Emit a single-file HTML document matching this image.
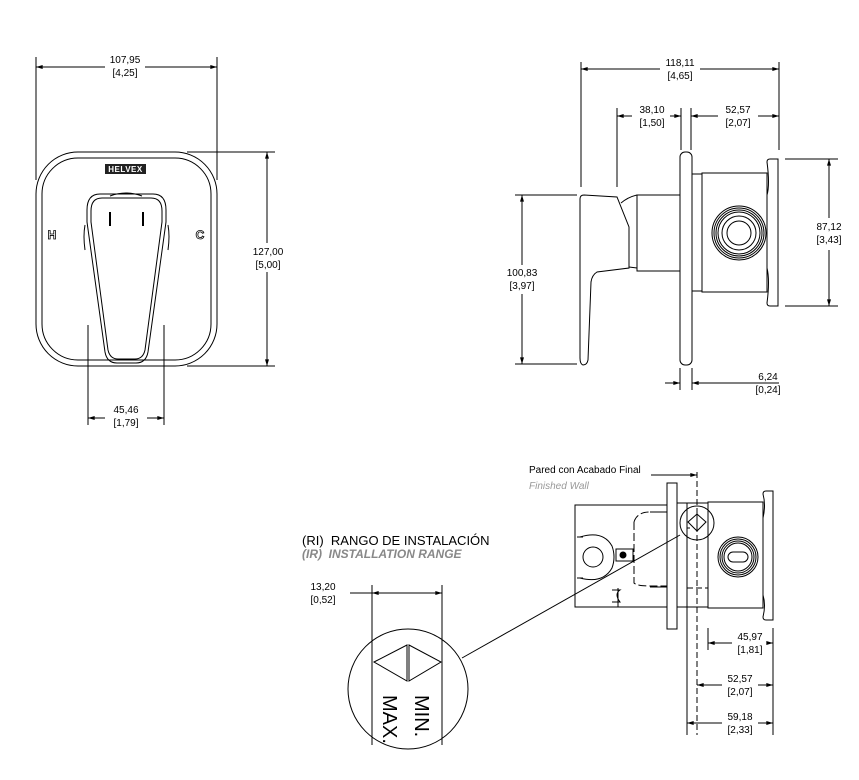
<!DOCTYPE html>
<html><head><meta charset="utf-8"><style>
html,body{margin:0;padding:0;background:#fff}
svg{display:block}
text{font-family:"Liberation Sans",sans-serif;font-size:10px;fill:#000}
</style></head><body>
<svg width="859" height="780" viewBox="0 0 859 780" xmlns="http://www.w3.org/2000/svg">
<defs>
<marker id="a" viewBox="0 0 10 6" refX="10" refY="3" markerWidth="10" markerHeight="4" orient="auto-start-reverse" markerUnits="userSpaceOnUse"><path d="M0,0L10,3L0,6z" fill="#000"/></marker>
</defs>
<g fill="none" stroke="#000" stroke-width="1">
<rect x="36" y="152" width="181" height="214" rx="42"/>
<rect x="42" y="158" width="169" height="202" rx="36"/>
<line x1="36" y1="57" x2="36" y2="180"/><line x1="217" y1="57" x2="217" y2="180"/>
<line x1="36" y1="67" x2="105" y2="67" marker-start="url(#a)"/><line x1="145" y1="67" x2="217" y2="67" marker-end="url(#a)"/>
<line x1="187" y1="152" x2="275" y2="152"/><line x1="187" y1="366" x2="275" y2="366"/>
<line x1="267" y1="152" x2="267" y2="243" marker-start="url(#a)"/><line x1="267" y1="272" x2="267" y2="366" marker-end="url(#a)"/>
<path d="M85,225 Q83,236 85,250 M168,225 Q170,236 168,250"/>
<path d="M110,196 Q126,190 142,196"/>
<path d="M100,194 H153 Q166,194 166,210 L166,222 L148,352 Q146,363 136,363 H117 Q107,363 105,352 L87,222 L87,210 Q87,194 100,194 Z"/>
<path d="M102,198 H151 Q162,198 162,211 L162,222 L145,350 Q143,359 135,359 H118 Q110,359 108,350 L91,222 L91,211 Q91,198 102,198 Z"/>
<line x1="110" y1="212" x2="110" y2="226" stroke-width="2"/><line x1="143" y1="212" x2="143" y2="226" stroke-width="2"/>
<line x1="88" y1="325" x2="88" y2="425"/><line x1="164" y1="325" x2="164" y2="425"/>
<line x1="88" y1="418" x2="105" y2="418" marker-start="url(#a)"/><line x1="147" y1="418" x2="164" y2="418" marker-end="url(#a)"/>
<line x1="581" y1="62" x2="581" y2="187"/><line x1="779" y1="62" x2="779" y2="150"/>
<line x1="581" y1="69" x2="660" y2="69" marker-start="url(#a)"/><line x1="700" y1="69" x2="779" y2="69" marker-end="url(#a)"/>
<line x1="617" y1="108" x2="617" y2="187"/><line x1="681" y1="108" x2="681" y2="150"/><line x1="691" y1="108" x2="691" y2="150"/>
<line x1="617" y1="116" x2="632" y2="116" marker-start="url(#a)"/><line x1="670" y1="116" x2="681" y2="116" marker-end="url(#a)"/>
<line x1="691" y1="116" x2="718" y2="116" marker-start="url(#a)"/><line x1="758" y1="116" x2="779" y2="116" marker-end="url(#a)"/>
<rect x="680" y="152" width="12" height="213" rx="5"/>
<path d="M584,195 L617,197 L629,227 L629,268 L597,272 Q592,275 591,282 L588,360 Q587,365 583,365 Q580,364 580,358 L580,199 Q580,195 584,195 Z"/>
<path d="M621,203 Q628,197 637,195"/>
<rect x="637" y="195" width="43" height="76"/>
<line x1="629" y1="267" x2="637" y2="268"/>
<rect x="692" y="174" width="10" height="117"/>
<rect x="702" y="173" width="65" height="119"/>
<path d="M767,195 Q770,185 767,162 Q767,159 770,159 H778 V306 H770 Q767,306 767,303 Q770,280 767,268"/>
<circle cx="739" cy="233" r="27"/><circle cx="739" cy="233" r="25"/><circle cx="739" cy="233" r="23"/><circle cx="739" cy="233" r="21"/><circle cx="739" cy="233" r="17"/><circle cx="739" cy="233" r="12"/>
<line x1="785" y1="159" x2="838" y2="159"/><line x1="785" y1="306" x2="838" y2="306"/>
<line x1="829" y1="159" x2="829" y2="218" marker-start="url(#a)"/><line x1="829" y1="250" x2="829" y2="306" marker-end="url(#a)"/>
<line x1="515" y1="195" x2="577" y2="195"/><line x1="515" y1="364" x2="577" y2="364"/>
<line x1="522" y1="195" x2="522" y2="265" marker-start="url(#a)"/><line x1="522" y1="294" x2="522" y2="364" marker-end="url(#a)"/>
<line x1="680" y1="368" x2="680" y2="390"/><line x1="692" y1="368" x2="692" y2="390"/>
<line x1="665" y1="383" x2="680" y2="383" marker-end="url(#a)"/><line x1="779" y1="383" x2="692" y2="383" marker-end="url(#a)"/>
<line x1="651" y1="475" x2="697" y2="475" marker-end="url(#a)"/>
<line x1="697" y1="472" x2="697" y2="735" stroke-dasharray="6,3"/>
<rect x="667" y="483" width="10" height="146"/>
<rect x="575" y="505" width="92" height="102"/>
<path d="M577,537 H583 M577,578 H583"/>
<path d="M580,537 Q603,530 612,546 Q616,557 612,568 Q603,584 580,578"/>
<circle cx="593" cy="557" r="10"/>
<rect x="616" y="549" width="17" height="12"/><circle cx="623" cy="555" r="3" fill="#000"/>
<path d="M634,522 Q637,512 650,512 H667 M634,522 V583 Q637,586 650,586 H667" stroke-dasharray="8,3"/>
<path d="M650,512 H667 M650,587 H667"/>
<path d="M612,590 H620 Q614,594 620,602 H612"/><line x1="618" y1="588" x2="618" y2="607"/>
<line x1="687" y1="503" x2="687" y2="735"/>
<line x1="677" y1="503" x2="708" y2="503"/><line x1="677" y1="607" x2="708" y2="607"/>
<path d="M687,588 H708 M687,528 H690" stroke-dasharray="6,3"/>
<rect x="708" y="502" width="55" height="106"/>
<path d="M763,518 Q766,505 763,494 Q763,491 766,491 H773 V620 H766 Q763,620 763,617 Q766,605 763,595"/>
<circle cx="738" cy="557" r="20"/><circle cx="738" cy="557" r="18"/><circle cx="738" cy="557" r="16"/><circle cx="738" cy="557" r="14"/>
<rect x="728" y="552" width="20" height="10" rx="5"/>
<circle cx="697" cy="523" r="17"/>
<path d="M688,522 L697,514 L706,522 L697,531 Z M697,514 V531"/>
<line x1="680" y1="535" x2="462" y2="658"/>
<circle cx="408" cy="689" r="60"/>
<line x1="372" y1="585" x2="372" y2="745"/><line x1="442" y1="585" x2="442" y2="745"/>
<line x1="350" y1="593" x2="372" y2="593"/>
<line x1="372" y1="593" x2="442" y2="593" marker-start="url(#a)" marker-end="url(#a)"/>
<path d="M374,662 L407,645 L407,681 Z M409,645 L441,662 L409,681 Z"/>
<line x1="773" y1="628" x2="773" y2="735"/>
<line x1="708" y1="628" x2="708" y2="650"/>
<line x1="708" y1="643" x2="732" y2="643" marker-start="url(#a)"/><line x1="768" y1="643" x2="773" y2="643" marker-end="url(#a)"/>
<line x1="697" y1="685" x2="722" y2="685" marker-start="url(#a)"/><line x1="758" y1="685" x2="773" y2="685" marker-end="url(#a)"/>
<line x1="687" y1="723" x2="722" y2="723" marker-start="url(#a)"/><line x1="758" y1="723" x2="773" y2="723" marker-end="url(#a)"/>
</g>
<rect x="105" y="164" width="41" height="10" fill="#222"/>
<text x="125.5" y="172" text-anchor="middle" style="font-size:8px;font-weight:bold;fill:#fff;letter-spacing:0.5px">HELVEX</text>
<text x="52" y="239" text-anchor="middle" style="font-size:12px;font-weight:bold;fill:#fff;stroke:#000;stroke-width:0.8">H</text>
<text x="200" y="239" text-anchor="middle" style="font-size:12px;font-weight:bold;fill:#fff;stroke:#000;stroke-width:0.8">C</text>
<g text-anchor="middle">
<text x="125" y="63">107,95</text><text x="125" y="76">[4,25]</text>
<text x="268" y="255">127,00</text><text x="268" y="268">[5,00]</text>
<text x="126" y="413">45,46</text><text x="126" y="426">[1,79]</text>
<text x="680" y="66">118,11</text><text x="680" y="79">[4,65]</text>
<text x="652" y="113">38,10</text><text x="652" y="126">[1,50]</text>
<text x="738" y="113">52,57</text><text x="738" y="126">[2,07]</text>
<text x="829" y="230">87,12</text><text x="829" y="243">[3,43]</text>
<text x="522" y="276">100,83</text><text x="522" y="289">[3,97]</text>
<text x="768" y="380">6,24</text><text x="768" y="393">[0,24]</text>
<text x="323" y="590">13,20</text><text x="323" y="603">[0,52]</text>
<text x="750" y="640">45,97</text><text x="750" y="653">[1,81]</text>
<text x="740" y="682">52,57</text><text x="740" y="695">[2,07]</text>
<text x="740" y="720">59,18</text><text x="740" y="733">[2,33]</text>
</g>
<text x="529" y="473">Pared con Acabado Final</text>
<text x="529" y="489" style="font-style:italic;fill:#999">Finished Wall</text>
<text x="302" y="545" style="font-size:13px">(RI)&#160; RANGO DE INSTALACIÓN</text>
<text x="302" y="558" style="font-size:12px;font-style:italic;font-weight:bold;fill:#888">(IR)&#160; INSTALLATION RANGE</text>
<text transform="translate(415,695) rotate(90)" style="font-size:20px">MIN.</text>
<text transform="translate(383,695) rotate(90)" style="font-size:20px">MAX.</text>
</svg>
</body></html>
